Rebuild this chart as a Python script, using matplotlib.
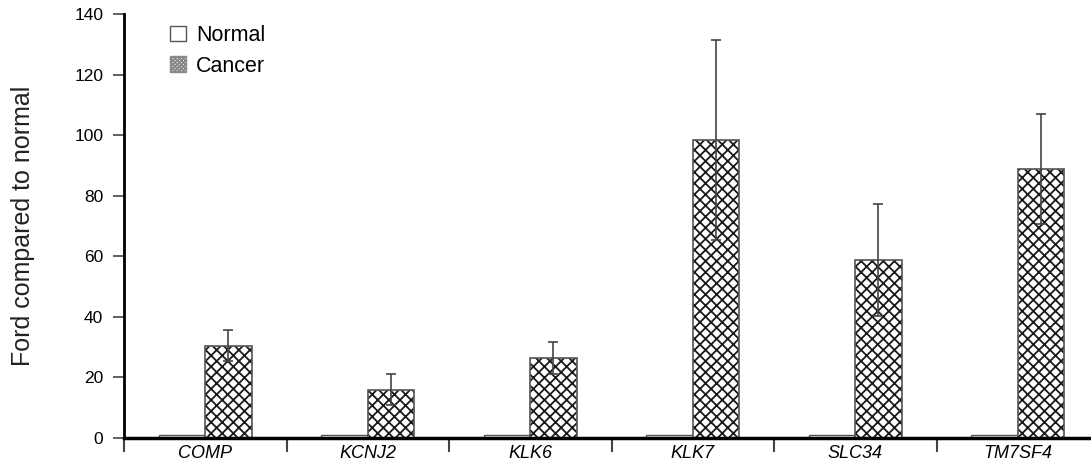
import numpy as np
import matplotlib
matplotlib.use('Agg')
import matplotlib.pyplot as plt
from matplotlib.patches import Patch

plt.rcParams['font.family'] = ['Liberation Sans', 'DejaVu Sans']
plt.rcParams['hatch.linewidth'] = 1.3

genes = ['COMP', 'KCNJ2', 'KLK6', 'KLK7', 'SLC34', 'TM7SF4']
normal = [1, 1, 1, 1, 1, 1]
cancer = [30.5, 16.0, 26.3, 98.4, 58.8, 88.8]
cancer_err = [5.0, 5.0, 5.3, 33.0, 18.5, 18.2]

fig = plt.figure(figsize=(10.91, 4.73), dpi=100)
ax = fig.add_axes([124 / 1091, 1 - 438 / 473, 975 / 1091, 424 / 473])

x = np.arange(len(genes)) + 0.5
w = 0.285
ax.bar(x - w / 2, normal, w, color='white', edgecolor='#555555', linewidth=1)
ax.bar(x + w / 2, cancer, w, color='white', edgecolor='#1a1a1a', linewidth=0, hatch='xxx')
ax.bar(x + w / 2, cancer, w, color='none', edgecolor='#555555', linewidth=1.2)
ax.errorbar(x + w / 2, cancer, yerr=cancer_err, fmt='none', ecolor='#444444',
            elinewidth=1.2, capsize=3.6, capthick=1.2)

ax.set_xlim(0, 6)
ax.set_ylim(0, 140)
ax.set_yticks(np.arange(0, 141, 20))
ax.set_xticks(np.arange(0, 6))
ax.set_xticklabels([])
ax.set_xticks(x, minor=True)
ax.set_xticklabels(genes, minor=True, style='italic', fontsize=13)
ax.tick_params(axis='x', which='minor', length=0, pad=5)
ax.tick_params(axis='x', which='major', length=10, width=1.5, color='#444444')
ax.tick_params(axis='y', length=8, width=1.2, color='#444444', labelsize=12.5, pad=7)

for s in ['top', 'right']:
    ax.spines[s].set_visible(False)
ax.spines['left'].set_linewidth(2)
ax.spines['bottom'].set_linewidth(2.5)

ax.set_ylabel('Ford compared to normal', fontsize=18, labelpad=28, color='#222222')

handles = [Patch(facecolor='white', edgecolor='#555555', linewidth=1, label='Normal'),
           Patch(facecolor='white', edgecolor='#888888', linewidth=1, hatch='xxxxxxxx',
                 label='Cancer')]
ax.legend(handles=handles, loc='upper left', bbox_to_anchor=(0.03, 1.015), frameon=False,
          fontsize=15.5, handlelength=0.7, handleheight=0.7, handletextpad=0.5,
          labelspacing=0.45, borderpad=0.3)

fig.savefig('out.png', dpi=100)
